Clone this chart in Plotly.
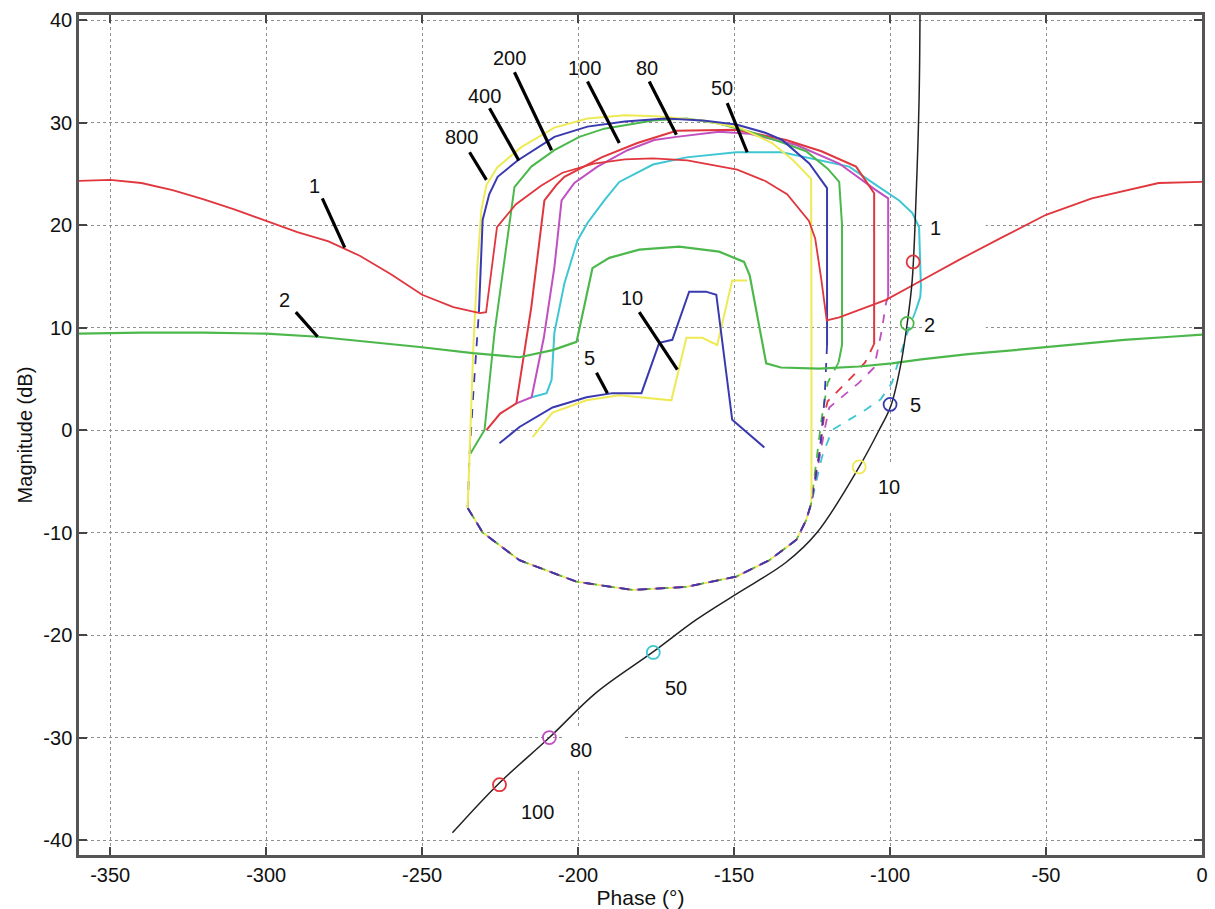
import plotly.graph_objects as go

# ---------------- data ----------------
# open-loop curve "1" (red)
ol1_phase = [-360, -350, -340, -330, -320, -310, -300, -290, -280, -270, -260, -250, -240, -231.5,
             -229.5, -226, -220, -212, -205, -195, -185, -176, -165, -149, -140, -133, -126, -124,
             -122, -120.3, -116.3, -108, -101.3, -91.7, -77.9, -64.1, -50, -35.3, -24.4, -13.9, 0]
ol1_mag = [24.3, 24.4, 24.1, 23.4, 22.5, 21.5, 20.4, 19.3, 18.4, 17.0, 15.2, 13.2, 12.0, 11.4,
           11.5, 19.8, 22.0, 23.8, 25.1, 26.0, 26.4, 26.5, 26.3, 25.4, 24.3, 23.0, 20.4, 18.7,
           14.6, 10.7, 11.0, 11.9, 12.7, 14.3, 16.6, 18.8, 21.0, 22.6, 23.4, 24.1, 24.2]

# open-loop curve "2" (green)
ol2_phase = [-360, -340, -320, -300, -283.5, -270, -250.8, -233.8, -218.8, -208.2, -200.5, -195.4, -190,
             -180.4, -167.6, -154.8, -146.8, -145, -139.7, -135, -122.7, -110, -99.4, -90, -75, -60,
             -50, -40, -25, -10, 0]
ol2_mag = [9.4, 9.5, 9.5, 9.4, 9.1, 8.7, 8.1, 7.5, 7.1, 7.8, 8.6, 15.8, 16.8,
           17.6, 17.9, 17.4, 16.4, 15.1, 6.5, 6.1, 6.0, 6.2, 6.5, 6.9, 7.4, 7.8,
           8.1, 8.4, 8.8, 9.1, 9.3]

# common lower arc of the closed-loop curves (dashed)
arc_phase = [-125.3, -126.9, -130, -138.7, -149.3, -165.3, -182.6, -200.5, -218.8, -230.6, -235.4]
arc_mag = [-7.2, -8.8, -10.7, -12.7, -14.3, -15.3, -15.6, -14.8, -12.7, -10.0, -7.6]

# closed-loop curves: solid branch
cl800_phase = [-235.4, -234.8, -233.6, -232.3, -231, -229.4, -226, -218.2, -207.6, -197, -185, -175,
               -160, -148.3, -137.8, -131, -125.3, -125.2, -125.2]
cl800_mag = [-7.6, -2.4, 8, 16, 21.5, 23.9, 25.6, 27.6, 29.5, 30.4, 30.7, 30.6,
             30.2, 29.5, 28, 26.3, 24.5, 10, -6.5]
cl400_phase = [-231.8, -231, -230.6, -228.5, -225.8, -219.4, -207.6, -197, -185, -172, -160, -149.3,
               -140, -134.6, -125.9, -120.2, -120.2]
cl400_mag = [11.5, 17, 20.5, 23, 24.7, 26.3, 28.6, 29.6, 30.1, 30.4, 30.2, 29.8,
             29, 28.3, 26.0, 23.6, 8.3]
cl200_phase = [-234.5, -230, -226.8, -223.6, -220.4, -215, -207.6, -199.6, -191.6, -176, -165.3, -155,
               -145, -135, -126.9, -120, -116.3, -115.4, -115.4, -116.5]
cl200_mag = [-2.3, 0, 9.5, 16.6, 23.7, 25.7, 27.3, 28.6, 29.4, 30.2, 30.4, 29.9,
             29.1, 28.1, 27.2, 25.5, 24.2, 20, 8.3, 6.6]
cl100_phase = [-229.4, -225, -219.8, -215, -210.8, -207, -204.4, -192.5, -181, -168.5, -149.3, -133.3,
               -122, -110.9, -105.1, -105.1]
cl100_mag = [0, 1.6, 2.6, 12, 22.4, 23.9, 24.7, 26.6, 28.0, 29.2, 29.3, 28.3,
             27.2, 25.7, 23.1, 8.4]
cl80_phase = [-219.8, -214.9, -211, -207.6, -205.3, -201.2, -193.8, -184.2, -175.6, -168.5, -154.8,
              -145, -130, -116.3, -105, -100.6, -100.6]
cl80_mag = [2.6, 3.2, 9, 15.9, 22.4, 24.1, 25.7, 27.3, 28.3, 28.6, 29.1,
            28.9, 27.8, 26.0, 23.5, 22.6, 13]
cl50_phase = [-214.9, -210.1, -208.5, -207.6, -204.4, -200.2, -197, -191.6, -186.8, -176, -165.3,
              -149.3, -134.6, -118.6, -113.1, -103.5, -97.1, -92.9, -90.7, -90.1, -90.3, -91.7]
cl50_mag = [3.2, 3.6, 4.9, 9.5, 14.3, 18.5, 20.2, 22.4, 24.2, 25.9, 26.6,
            27.1, 27.1, 26.1, 25.7, 23.7, 22.4, 21.2, 19.8, 14, 13, 11.7]

# closed-loop curves: dashed branch (right-hand descent, then common lower arc)
d800_phase = [-125.2]
d800_mag = [-6.5]
d400_phase = [-120.2, -121, -122.5, -124.5]
d400_mag = [8.3, 3, -2, -5.5]
d400_left_phase = [-235.4, -234.8, -233.5, -231.8]
d400_left_mag = [-7.6, -2.4, 4, 11.5]
d200_phase = [-116.5, -120, -122, -123.5, -124.8]
d200_mag = [6.6, 4.6, 1, -3, -6]
d100_phase = [-105.1, -108, -110.9, -116, -120, -121.1, -122.5, -124.5]
d100_mag = [8.4, 6.6, 5.6, 4.0, 2.8, 1.5, -2, -5.5]
d80_phase = [-100.6, -101.3, -102.6, -105.1, -110, -119.5, -121, -122.8, -124.7]
d80_mag = [13, 12.4, 9.8, 6.1, 4.6, 2.2, 0, -3, -6]
d50_phase = [-91.7, -94.9, -99.4, -103, -107.7, -113, -118.6, -121.8, -124]
d50_mag = [11.7, 9.1, 4.6, 3.0, 2.0, 1.0, 0, -2.6, -5.5]

# small closed-loop curves 5 and 10
cl5_phase = [-225.2, -218.8, -208.2, -197.3, -189, -179.7, -174, -169.8, -164.4, -159, -155.7, -150.6, -140.3]
cl5_mag = [-1.3, 0.3, 2.2, 3.2, 3.6, 3.6, 8.5, 8.8, 13.5, 13.5, 13.2, 1.0, -1.7]
cl10_phase = [-214.6, -208.2, -197.3, -186.8, -170.1, -165.3, -160.2, -155.4, -150.6, -145.8]
cl10_mag = [-0.7, 1.7, 2.9, 3.4, 2.9, 9.0, 9.0, 8.3, 14.6, 14.6]

# black locus
lin_phase = [-240.3, -225.8, -209.2, -194.1, -176.2, -162.1, -149.3, -133.3, -123.4, -109.9,
             -103.5, -99.7, -96.5, -94.5, -92.9, -91.7, -90.7, -90.4]
lin_mag = [-39.3, -34.6, -30.0, -25.6, -21.7, -18.5, -16.0, -12.9, -10.0, -3.6,
           0.0, 2.4, 6.5, 10.4, 14.6, 22.4, 32.2, 40.5]

# circles on the black locus
pt_phase = [-225.2, -209.2, -175.9, -109.9, -100.0, -94.5, -92.6]
pt_mag = [-34.6, -30.0, -21.7, -3.6, 2.5, 10.4, 16.4]
pt_text = ["100", "80", "50", "10", "5", "2", "1"]
pt_colors = ["#e0363e", "#c050c0", "#3ec6d2", "#eeea55", "#3a3ab0", "#4cb84c", "#e0363e"]
pt_lab_phase = [-213, -199, -168.5, -100.3, -91.7, -87.5, -85.3]
pt_lab_mag = [-37.3, -31.2, -25.2, -5.6, 2.4, 10.2, 19.7]

# leader-line labels
lead_text = ["1", "2", "800", "400", "200", "100", "80", "50", "10", "5"]
lead_txt_phase = [-284.4, -294.0, -237.4, -230.0, -222.0, -198.0, -177.8, -153.8, -182.6, -196.4]
lead_txt_mag = [23.8, 12.7, 28.6, 32.6, 36.3, 35.3, 35.3, 33.4, 12.9, 7.0]
lead_x0 = [-282.0, -290.5, -234.8, -228.4, -220.4, -197.0, -177.2, -152.2, -180.4, -194.1]
lead_y0 = [22.6, 11.5, 27.1, 31.4, 34.9, 34.0, 34.0, 31.9, 11.5, 5.6]
lead_x1 = [-274.8, -283.5, -229.4, -219.0, -208.5, -186.8, -168.5, -145.8, -168.2, -190.6]
lead_y1 = [17.8, 9.1, 24.4, 26.3, 27.3, 28.0, 28.8, 27.1, 5.9, 3.6]

# white patches behind some labels (they interrupt the grid in the original)
box_x0 = [-89.1, -89.1, -204.4, -106.7]
box_x1 = [-69.3, -69.3, -185.2, -92.3]
box_y0 = [18.5, 8.8, -33.2, -8.0]
box_y1 = [21.0, 11.2, -29.1, -3.2]

x_ticks = [-350, -300, -250, -200, -150, -100, -50, 0]
y_ticks = [-40, -30, -20, -10, 0, 10, 20, 30, 40]

RED = "#e0363e"
GREEN = "#4cb84c"
BLUE = "#3a3ab0"
MAG = "#c050c0"
CYAN = "#3ec6d2"
YEL = "#eeea55"

fig = go.Figure()

def add(x, y, color, dash="solid", width=2.0, shape="linear"):
    fig.add_trace(go.Scatter(x=x, y=y, mode="lines",
                             line=dict(color=color, width=width, dash=dash, shape=shape),
                             hoverinfo="skip", showlegend=False))

# dashed branches
dashed = [
    (d800_phase, d800_mag, YEL),
    (d200_phase, d200_mag, GREEN),
    (d50_phase, d50_mag, CYAN),
    (d80_phase, d80_mag, MAG),
    (d100_phase, d100_mag, RED),
    (d400_phase, d400_mag, BLUE),
]
for px, py, c in dashed:
    add(px + arc_phase, py + arc_mag, c, dash="dash", width=1.8)
add(d400_left_phase, d400_left_mag, BLUE, dash="dash", width=1.8)

# solid branches
add(cl50_phase, cl50_mag, CYAN)
add(cl80_phase, cl80_mag, MAG)
add(cl100_phase, cl100_mag, RED)
add(cl200_phase, cl200_mag, GREEN)
add(cl800_phase, cl800_mag, YEL)
add(cl400_phase, cl400_mag, BLUE)
add(cl10_phase, cl10_mag, YEL)
add(cl5_phase, cl5_mag, BLUE)

# open-loop curves
add(ol2_phase, ol2_mag, GREEN, width=2.2)
add(ol1_phase, ol1_mag, RED, width=1.8)

# black locus
add(lin_phase, lin_mag, "#222222", width=1.5, shape="spline")

# circles
fig.add_trace(go.Scatter(x=pt_phase, y=pt_mag, mode="markers",
                         marker=dict(symbol="circle-open", size=13, color=pt_colors,
                                     line=dict(width=1.8, color=pt_colors)),
                         hoverinfo="skip", showlegend=False))

FONT = dict(size=20, color="#111111", family="Arial")
annotations = []
for t, x, y in zip(pt_text, pt_lab_phase, pt_lab_mag):
    annotations.append(dict(x=x, y=y, text=t, showarrow=False, xanchor="center", yanchor="middle",
                            font=FONT))
for t, x, y in zip(lead_text, lead_txt_phase, lead_txt_mag):
    annotations.append(dict(x=x, y=y, text=t, showarrow=False, xanchor="center", yanchor="middle",
                            font=FONT))

shapes = []
for x0, x1, y0, y1 in zip(box_x0, box_x1, box_y0, box_y1):
    shapes.append(dict(type="rect", x0=x0, x1=x1, y0=y0, y1=y1, xref="x", yref="y",
                       fillcolor="white", line=dict(width=0), layer="between"))
for x0, y0, x1, y1 in zip(lead_x0, lead_y0, lead_x1, lead_y1):
    shapes.append(dict(type="line", x0=x0, y0=y0, x1=x1, y1=y1, xref="x", yref="y",
                       line=dict(color="black", width=3.2)))

axis_common = dict(showgrid=True, gridcolor="#8f8f8f", griddash="dot", gridwidth=1,
                   showline=True, linecolor="#555555", linewidth=2.5, mirror="ticks",
                   ticks="inside", ticklen=8, tickwidth=2, tickcolor="#444444",
                   zeroline=False, tickfont=FONT, automargin=False)

fig.update_layout(
    width=1215, height=909,
    margin=dict(l=79, r=13, t=15, b=54),
    paper_bgcolor="white", plot_bgcolor="white",
    font=dict(family="Arial"),
    xaxis=dict(range=[-360, 0], tickvals=x_ticks, ticktext=[str(v) for v in x_ticks],
               title=dict(text="Phase (°)", font=dict(size=21, color="#111111"), standoff=2),
               **axis_common),
    yaxis=dict(range=[-41.46, 40.49], tickvals=y_ticks, ticktext=[str(v) for v in y_ticks],
               title=dict(text="Magnitude (dB)", font=dict(size=20, color="#111111"), standoff=6),
               **axis_common),
    annotations=annotations,
    shapes=shapes,
)

fig.write_html("out.html")
